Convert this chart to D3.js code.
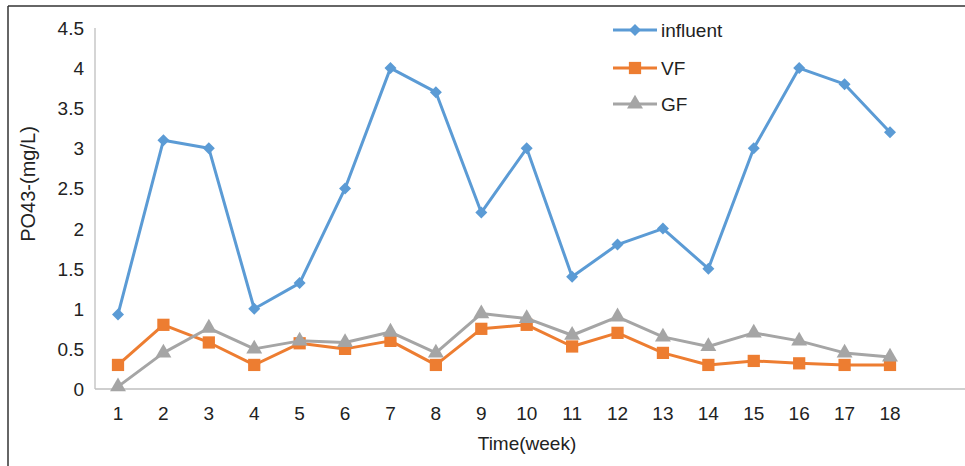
<!DOCTYPE html>
<html><head><meta charset="utf-8">
<script src="https://cdn.jsdelivr.net/npm/d3@7"></script>
<style>body{margin:0;background:#fff}svg{display:block;font-family:"Liberation Sans",Arial,sans-serif}</style>
</head><body>
<svg id="c" width="965" height="466"></svg>
<script>
const weeks = [1,2,3,4,5,6,7,8,9,10,11,12,13,14,15,16,17,18];
const influent = [0.93,3.1,3.0,1.0,1.32,2.5,4.0,3.7,2.2,3.0,1.4,1.8,2.0,1.5,3.0,4.0,3.8,3.2];
const VF = [0.3,0.8,0.58,0.3,0.57,0.5,0.6,0.3,0.75,0.8,0.53,0.7,0.45,0.3,0.35,0.32,0.3,0.3];
const GF = [0.03,0.45,0.76,0.5,0.6,0.58,0.71,0.45,0.94,0.88,0.67,0.9,0.65,0.53,0.7,0.6,0.45,0.4];
const yTicks = [0,0.5,1,1.5,2,2.5,3,3.5,4,4.5];
const seriesNames = ["influent","VF","GF"];
const colors = ["#5b9bd5","#ed7d31","#a5a5a5"];

const svg = d3.select("#c");
// frame
svg.append("line").attr("x1",8).attr("x2",8).attr("y1",6).attr("y2",466).attr("stroke","#333").attr("stroke-width",1.5);
svg.append("line").attr("x1",8).attr("x2",965).attr("y1",6).attr("y2",6).attr("stroke","#333").attr("stroke-width",1.5);

const x = d3.scaleLinear().domain([1,18]).range([118,890]);
const y = d3.scaleLinear().domain([0,4.5]).range([389,28]);

// axes
svg.append("line").attr("x1",95).attr("x2",95).attr("y1",y(4.5)).attr("y2",y(0)).attr("stroke","#bfbfbf").attr("stroke-width",1.3);
svg.append("line").attr("x1",95).attr("x2",965).attr("y1",y(0)).attr("y2",y(0)).attr("stroke","#bfbfbf").attr("stroke-width",1.3);

svg.append("g").selectAll("text").data(yTicks).join("text")
  .attr("x",84).attr("y",d=>y(d)+7).attr("text-anchor","end")
  .attr("font-size",19).attr("fill","#222").text(d=>d);
svg.append("g").selectAll("text").data(weeks).join("text")
  .attr("x",d=>x(d)).attr("y",420).attr("text-anchor","middle")
  .attr("font-size",19).attr("fill","#222").text(d=>d);

svg.append("text").attr("x",527).attr("y",450).attr("text-anchor","middle")
  .attr("font-size",19).attr("fill","#222").text("Time(week)");
svg.append("text").attr("transform","translate(35,184) rotate(-90)").attr("text-anchor","middle")
  .attr("font-size",20).attr("fill","#222").text("PO43-(mg/L)");

const data = [influent,VF,GF];
const line = d3.line().x((d,i)=>x(weeks[i])).y(d=>y(d));
const symbols = [d3.symbolSquare, d3.symbolSquare, d3.symbolTriangle];
const sizes = [72,150,110];
const rot = [" rotate(45)","",""];

data.forEach((s,k)=>{
  const g = svg.append("g");
  g.append("path").datum(s).attr("d",line).attr("fill","none").attr("stroke",colors[k]).attr("stroke-width",3).attr("stroke-linejoin","round");
  g.selectAll("path.m").data(s).join("path").attr("class","m")
    .attr("transform",(d,i)=>`translate(${x(weeks[i])},${y(d)})${rot[k]}`)
    .attr("d",d3.symbol().type(symbols[k]).size(sizes[k])).attr("fill",colors[k]);
});

// legend
const ly = [30,68,104];
seriesNames.forEach((n,k)=>{
  const g = svg.append("g");
  g.append("line").attr("x1",613).attr("x2",657).attr("y1",ly[k]).attr("y2",ly[k]).attr("stroke",colors[k]).attr("stroke-width",3);
  g.append("path").attr("transform",`translate(635,${ly[k]})${rot[k]}`)
    .attr("d",d3.symbol().type(symbols[k]).size(sizes[k])).attr("fill",colors[k]);
  g.append("text").attr("x",661).attr("y",ly[k]+7).attr("font-size",19).attr("fill","#222").text(n);
});
</script>
</body></html>
